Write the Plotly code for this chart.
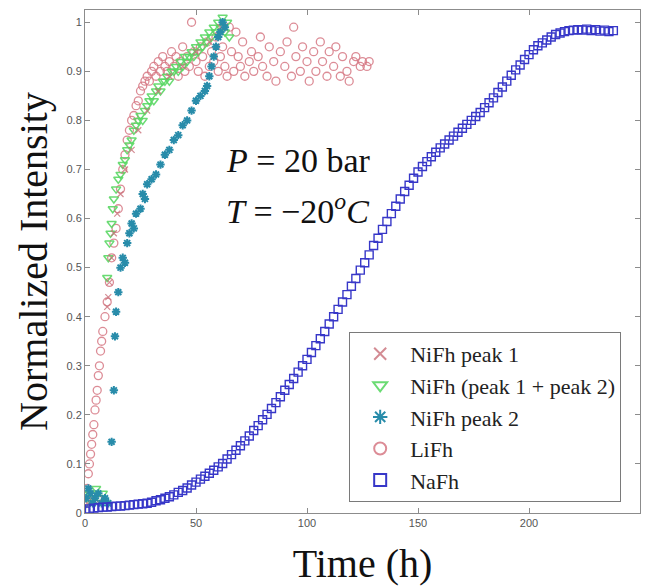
import plotly.graph_objects as go

# ---------------- data ----------------
nifh1_t = [1.0, 3.0, 5.0, 8.0, 10.0, 10.5, 11.0, 12.0, 13.0, 14.5, 16.0, 18.0, 21.0, 24.0, 28.0, 33.0, 38.0, 44.0, 50.0, 56.0, 61.0]
nifh1_y = [0.02, 0.03, 0.02, 0.03, 0.42, 0.44, 0.47, 0.52, 0.57, 0.61, 0.65, 0.70, 0.74, 0.78, 0.82, 0.86, 0.89, 0.91, 0.94, 0.96, 0.99]

nifh12_t = [0.5, 2.0, 3.5, 5.0, 6.5, 8.0, 10.0, 10.5, 11.0, 11.5, 12.0, 12.5, 13.0, 14.0, 15.0, 16.0, 17.0, 18.0, 19.0, 20.0,
            21.0, 22.0, 23.0, 24.0, 25.0, 26.0, 27.0, 28.0, 29.0, 30.0, 31.0, 32.0, 33.0, 34.0, 35.0, 36.0, 37.0, 38.0, 39.0, 40.0,
            41.0, 42.0, 43.0, 44.0, 45.0, 46.0, 47.0, 48.0, 49.0, 50.0, 51.0, 52.0, 53.0, 54.0, 55.0, 56.0, 57.0, 58.0, 59.0, 60.0,
            61.0, 62.0, 63.0, 64.0, 65.0]
nifh12_y = [0.02, 0.04, 0.03, 0.05, 0.03, 0.04, 0.48, 0.52, 0.55, 0.57, 0.59, 0.62, 0.64, 0.66, 0.68, 0.69, 0.71, 0.72, 0.74, 0.75,
            0.76, 0.78, 0.79, 0.80, 0.81, 0.80, 0.82, 0.83, 0.84, 0.85, 0.84, 0.86, 0.87, 0.86, 0.88, 0.88, 0.89, 0.88, 0.90, 0.90,
            0.91, 0.90, 0.92, 0.91, 0.93, 0.92, 0.93, 0.94, 0.93, 0.95, 0.94, 0.96, 0.95, 0.97, 0.96, 0.98, 0.97, 0.99, 0.98, 1.00,
            0.99, 1.01, 0.98, 1.00, 0.97]

nifh2_t = [0.5, 1.5, 2.5, 3.5, 4.5, 6.0, 7.5, 9.0, 10.5, 12.0, 13.0, 13.5, 14.0, 15.0, 16.0, 17.0, 18.0, 19.0, 20.0, 21.0,
           22.0, 23.0, 25.0, 26.0, 27.0, 28.0, 30.0, 32.0, 34.0, 36.0, 38.0, 40.0, 42.0, 44.0, 46.0, 48.0, 50.0, 52.0, 54.0, 55.0,
           56.0, 57.0, 58.0, 59.0, 60.0, 61.0, 62.0, 63.0]
nifh2_y = [0.03, 0.05, 0.04, 0.02, 0.03, 0.04, 0.02, 0.03, 0.02, 0.145, 0.25, 0.36, 0.41, 0.45, 0.50, 0.52, 0.51, 0.55, 0.57, 0.59,
           0.58, 0.61, 0.62, 0.65, 0.64, 0.67, 0.68, 0.69, 0.71, 0.73, 0.74, 0.76, 0.77, 0.79, 0.80, 0.82, 0.84, 0.85, 0.86, 0.87,
           0.89, 0.91, 0.93, 0.95, 0.97, 0.98, 1.00, 0.99]

lifh_t = [0.5, 1.0, 1.5, 2.0, 2.5, 3.0, 3.5, 4.0, 4.5, 5.0, 5.5, 6.0, 6.5, 7.0, 7.5, 8.0, 9.0, 10.0, 11.0, 12.0,
          13.0, 14.0, 15.0, 16.0, 17.0, 18.0, 19.0, 20.0, 21.0, 22.0, 23.0, 24.0, 25.0, 26.0, 27.0, 28.0, 29.0, 30.0, 31.0, 32.0,
          33.0, 34.0, 35.0, 36.0, 37.0, 38.0, 39.0, 40.0, 41.0, 42.0, 43.0, 44.0, 45.0, 46.0, 47.0, 48.0, 49.0, 50.0, 51.0, 52.0,
          53.0, 54.0, 55.0, 56.0, 57.0, 58.0, 59.0, 60.0, 61.0, 62.0, 63.0, 64.0, 65.0, 66.0, 67.0, 68.0, 69.0, 70.0, 71.0, 72.0,
          74.0, 75.0, 76.0, 78.0, 79.0, 80.0, 82.0, 83.0, 85.0, 86.0, 88.0, 90.0, 91.0, 93.0, 94.0, 95.0, 97.0, 98.0, 100.0, 101.0,
          103.0, 104.0, 106.0, 107.0, 109.0, 110.0, 112.0, 113.0, 115.0, 116.0, 118.0, 119.0, 121.0, 122.0, 124.0, 125.0, 127.0, 128.0]
lifh_y = [0.02, 0.05, 0.08, 0.10, 0.12, 0.14, 0.16, 0.18, 0.21, 0.23, 0.25, 0.28, 0.30, 0.33, 0.35, 0.37, 0.40, 0.43, 0.47, 0.52,
          0.55, 0.58, 0.62, 0.66, 0.70, 0.73, 0.76, 0.78, 0.80, 0.81, 0.83, 0.84, 0.86, 0.87, 0.88, 0.89, 0.88, 0.90, 0.91, 0.89,
          0.92, 0.90, 0.93, 0.91, 0.90, 0.92, 0.94, 0.91, 0.93, 0.89, 0.92, 0.95, 0.90, 0.93, 0.91, 1.00, 0.94, 0.92, 0.90, 0.95,
          0.93, 0.89, 0.96, 0.91, 0.94, 0.92, 0.97, 0.90, 0.93, 0.95, 0.91, 0.89, 0.99, 0.94, 0.90, 0.98, 0.93, 0.91, 0.96, 0.89,
          0.92, 0.94, 0.90, 0.93, 0.97, 0.91, 0.89, 0.95, 0.92, 0.88, 0.94, 0.91, 0.96, 0.89, 0.99, 0.93, 0.90, 0.95, 0.92, 0.88,
          0.94, 0.90, 0.96, 0.92, 0.89, 0.94, 0.91, 0.95, 0.89, 0.93, 0.90, 0.88, 0.92, 0.93, 0.91, 0.92, 0.91, 0.92]

nafh_t = [0, 2, 4, 6, 8, 10, 12, 14, 16, 18, 20, 22, 24, 26, 28, 30, 32, 34, 36, 38,
          40, 42, 44, 46, 48, 50, 52, 54, 56, 58, 60, 62, 64, 66, 68, 70, 72, 74, 76, 78,
          80, 82, 84, 86, 88, 90, 92, 94, 96, 98, 100, 102, 104, 106, 108, 110, 112, 114, 116, 118,
          120, 122, 124, 126, 128, 130, 132, 134, 136, 138, 140, 142, 144, 146, 148, 150, 152, 154, 156, 158,
          160, 162, 164, 166, 168, 170, 172, 174, 176, 178, 180, 182, 184, 186, 188, 190, 192, 194, 196, 198,
          200, 202, 204, 206, 208, 210, 212, 214, 216, 218, 220, 222, 224, 226, 228, 230, 232, 234, 236, 238]
nafh_y = [0.004, 0.008, 0.010, 0.011, 0.012, 0.012, 0.013, 0.014, 0.014, 0.015, 0.016, 0.017, 0.018, 0.019, 0.020, 0.022, 0.025, 0.027, 0.030, 0.033,
          0.037, 0.042, 0.046, 0.051, 0.057, 0.063, 0.069, 0.075, 0.081, 0.087, 0.094, 0.101, 0.110, 0.119, 0.128, 0.137, 0.147, 0.157, 0.168, 0.178,
          0.190, 0.201, 0.213, 0.225, 0.237, 0.250, 0.262, 0.274, 0.287, 0.300, 0.313, 0.327, 0.341, 0.355, 0.370, 0.385, 0.400, 0.415, 0.430, 0.445,
          0.462, 0.478, 0.495, 0.510, 0.526, 0.545, 0.560, 0.578, 0.594, 0.610, 0.625, 0.640, 0.655, 0.668, 0.682, 0.695, 0.706, 0.716, 0.726, 0.735,
          0.744, 0.752, 0.760, 0.768, 0.776, 0.784, 0.792, 0.800, 0.808, 0.816, 0.826, 0.836, 0.846, 0.857, 0.868, 0.880, 0.892, 0.903, 0.913, 0.924,
          0.934, 0.944, 0.952, 0.958, 0.964, 0.970, 0.975, 0.978, 0.981, 0.983, 0.984, 0.985, 0.984, 0.986, 0.983, 0.985, 0.982, 0.984, 0.981, 0.983]

x_ticks = [0, 50, 100, 150, 200, 250]
x_tick_text = ["0", "50", "100", "150", "200", "250"]
y_ticks = [0, 0.1, 0.2, 0.3, 0.4, 0.5, 0.6, 0.7, 0.8, 0.9, 1.0]
y_tick_text = ["0", "0.1", "0.2", "0.3", "0.4", "0.5", "0.6", "0.7", "0.8", "0.9", "1"]

SERIF = "Liberation Serif"

# ---------------- figure ----------------
fig = go.Figure()

fig.add_trace(go.Scatter(x=lifh_t, y=lifh_y, mode="markers", name="LiFh",
                         marker=dict(symbol="circle-open", size=8, color="rgba(214,120,132,0.85)", line=dict(width=1.3))))
fig.add_trace(go.Scatter(x=nifh12_t, y=nifh12_y, mode="markers", name="NiFh (peak 1 + peak 2)",
                         marker=dict(symbol="triangle-down-open", size=8, color="rgba(90,215,100,0.9)", line=dict(width=1.5))))
fig.add_trace(go.Scatter(x=nifh1_t, y=nifh1_y, mode="markers", name="NiFh peak 1",
                         marker=dict(symbol="x-thin-open", size=6, color="rgba(200,110,120,0.8)", line=dict(width=1.2))))
fig.add_trace(go.Scatter(x=nifh2_t, y=nifh2_y, mode="markers", name="NiFh peak 2",
                         marker=dict(symbol="asterisk-open", size=7, color="rgb(40,140,170)", line=dict(width=2))))
fig.add_trace(go.Scatter(x=nafh_t, y=nafh_y, mode="markers", name="NaFh",
                         marker=dict(symbol="square-open", size=8, color="rgb(55,55,200)", line=dict(width=1.4))))

# legend order as in reference
order = ["NiFh peak 1", "NiFh (peak 1 + peak 2)", "NiFh peak 2", "LiFh", "NaFh"]
for tr in fig.data:
    tr.legendrank = order.index(tr.name) + 1

axis_common = dict(showline=True, linecolor="#8c8c8c", linewidth=1, mirror="ticks",
                   ticks="inside", ticklen=5, tickcolor="#8c8c8c", showgrid=False, zeroline=False,
                   automargin=False,
                   tickfont=dict(family="Liberation Sans", size=11, color="#555555"))

fig.update_xaxes(range=[0, 250], tickvals=x_ticks, ticktext=x_tick_text,
                 title=dict(text="Time (h)", font=dict(family=SERIF, size=40, color="#111111"), standoff=20),
                 **axis_common)
fig.update_yaxes(range=[0, 1.025], tickvals=y_ticks, ticktext=y_tick_text,
                 title=dict(text="Normalized Intensity", font=dict(family=SERIF, size=40, color="#111111"), standoff=6),
                 **axis_common)

fig.add_annotation(x=0.25, y=0.70, xref="paper", yref="paper", xanchor="left", yanchor="middle", showarrow=False,
                   text="<i>P</i> = 20 bar", font=dict(family=SERIF, size=34, color="#111111"))
fig.add_annotation(x=0.25, y=0.605, xref="paper", yref="paper", xanchor="left", yanchor="middle", showarrow=False,
                   text="<i>T</i> = \u221220<sup><i>o</i></sup><i>C</i>",
                   font=dict(family=SERIF, size=34, color="#111111"))

fig.update_layout(
    width=648, height=588,
    margin=dict(l=85, r=8, t=10, b=75),
    paper_bgcolor="white", plot_bgcolor="white",
    font=dict(family=SERIF, color="#222222"),
    showlegend=True,
    legend=dict(x=0.476, y=0.36, xanchor="left", yanchor="top",
                bgcolor="white", bordercolor="#7a7a7a", borderwidth=1,
                font=dict(family=SERIF, size=22, color="#222222"),
                itemsizing="constant", itemwidth=50),
)

fig.write_html("out.html", config={"displayModeBar": False},
               post_script="document.body.style.margin='0px';")
